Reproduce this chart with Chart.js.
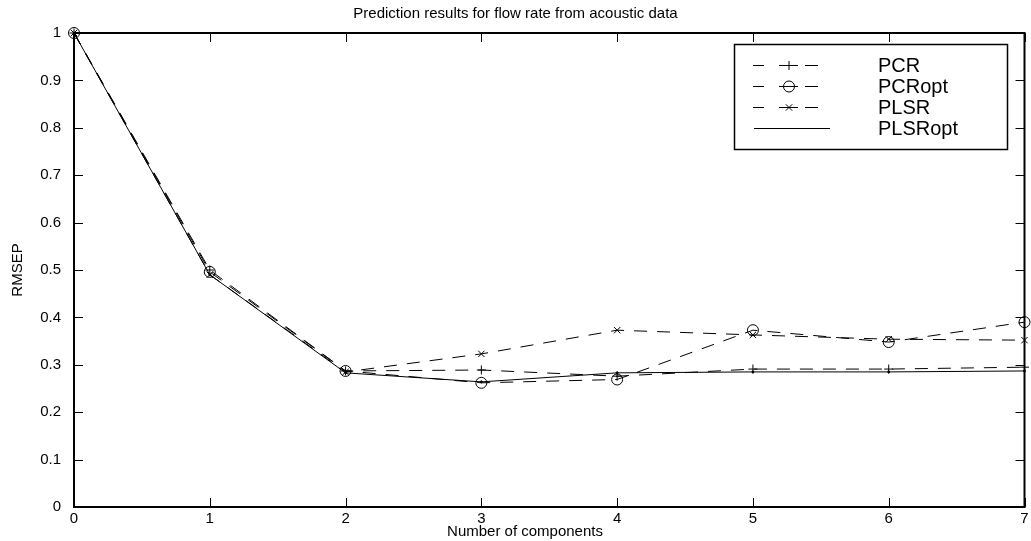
<!DOCTYPE html>
<html><head><meta charset="utf-8">
<script src="https://cdn.jsdelivr.net/npm/chart.js@4/dist/chart.umd.min.js"></script>
<style>html,body{margin:0;padding:0;background:#fff;overflow:hidden}</style>
</head><body>
<canvas id="c" width="1031" height="541"></canvas>
<script>
const components = [0, 1, 2, 3, 4, 5, 6, 7];
const pcr      = [1, 0.500, 0.287, 0.289, 0.276, 0.291, 0.291, 0.295];
const pcrOpt   = [1, 0.496, 0.287, 0.262, 0.269, 0.373, 0.348, 0.390];
const plsr     = [1, 0.490, 0.285, 0.323, 0.373, 0.363, 0.354, 0.352];
const plsrOpt  = [1, 0.490, 0.283, 0.264, 0.283, 0.285, 0.285, 0.287];
const seriesNames = ['PCR', 'PCRopt', 'PLSR', 'PLSRopt'];
const yTicks = [0, 0.1, 0.2, 0.3, 0.4, 0.5, 0.6, 0.7, 0.8, 0.9, 1];
const xTicks = [0, 1, 2, 3, 4, 5, 6, 7];
const titleText = 'Prediction results for flow rate from acoustic data';
const xTitle = 'Number of components';
const yTitle = 'RMSEP';

const FONT = "'Liberation Sans', Arial, Helvetica, sans-serif";
const toXY = arr => components.map((c, i) => ({x: c, y: arr[i]}));
const DASH = [13, 10];

const datasets = [
  {label: seriesNames[0], data: toXY(pcr), borderDash: DASH, pointStyle: 'cross', pointRadius: 4.5},
  {label: seriesNames[1], data: toXY(pcrOpt), borderDash: DASH, pointStyle: 'circle', pointRadius: 5.5},
  {label: seriesNames[2], data: toXY(plsr), borderDash: DASH, pointStyle: 'crossRot', pointRadius: 4.5},
  {label: seriesNames[3], data: toXY(plsrOpt), borderDash: [], pointStyle: 'circle', pointRadius: 1}
].map(d => Object.assign({
  borderColor: '#000', borderWidth: 1, backgroundColor: 'rgba(0,0,0,0)',
  pointBorderColor: '#000', pointBackgroundColor: 'rgba(0,0,0,0)', pointBorderWidth: 1,
  tension: 0, fill: false, clip: false
}, d));
datasets[3].pointBackgroundColor = '#000';

const framePlugin = {
  id: 'frame',
  afterDatasetsDraw(chart) {
    const {ctx, chartArea: a, scales} = chart;
    ctx.save();
    ctx.strokeStyle = '#000';
    ctx.lineWidth = 1;
    const TL = 9;
    ctx.beginPath();
    xTicks.forEach(v => {
      const px = Math.round(scales.x.getPixelForValue(v)) + 0.5;
      ctx.moveTo(px, a.bottom); ctx.lineTo(px, a.bottom - TL);
      ctx.moveTo(px, a.top); ctx.lineTo(px, a.top + TL);
    });
    yTicks.forEach(v => {
      const py = Math.round(scales.y.getPixelForValue(v)) + 0.5;
      ctx.moveTo(a.left, py); ctx.lineTo(a.left + TL, py);
      ctx.moveTo(a.right, py); ctx.lineTo(a.right - TL, py);
    });
    ctx.stroke();
    ctx.lineWidth = 2;
    ctx.strokeRect(a.left, a.top, a.right - a.left, a.bottom - a.top);
    ctx.restore();
  },
  afterDraw(chart) {
    const {ctx} = chart;
    ctx.save();
    // x-axis title
    ctx.fillStyle = '#000';
    ctx.font = '15px ' + FONT;
    ctx.textAlign = 'center';
    ctx.textBaseline = 'middle';
    ctx.fillText(chart.options.scales.x.title.text, 525, 532);
    // legend
    const bx = 734.5, by = 44.5, bw = 273, bh = 105;
    ctx.fillStyle = '#fff';
    ctx.fillRect(bx, by, bw, bh);
    ctx.strokeStyle = '#000';
    ctx.lineWidth = 1.5;
    ctx.strokeRect(bx, by, bw, bh);
    const rows = [65, 86, 107, 128];
    chart.data.datasets.forEach((ds, i) => {
      const y = rows[i] + 0.5;
      ctx.strokeStyle = '#000';
      ctx.lineWidth = 1;
      ctx.setLineDash([]);
      ctx.beginPath();
      const dashed = ds.borderDash && ds.borderDash.length;
      if (dashed) {
        [[753, 764], [779, 798], [805, 818]].forEach(([s, e]) => { ctx.moveTo(s, y); ctx.lineTo(e, y); });
      } else {
        ctx.moveTo(754, y); ctx.lineTo(830, y);
      }
      ctx.stroke();
      const mx = dashed ? 789 : 792;
      if (i === 3) {
        ctx.fillStyle = '#000'; ctx.fillRect(mx - 0.5, y - 0.5, 1, 1);
      } else {
        ctx.fillStyle = 'rgba(0,0,0,0)';
        Chart.helpers.drawPoint(ctx, {
          pointStyle: ds.pointStyle, radius: ds.pointRadius, borderWidth: 1, rotation: 0
        }, mx, y);
      }
      ctx.fillStyle = '#000';
      ctx.font = '20px ' + FONT;
      ctx.textAlign = 'left';
      ctx.textBaseline = 'middle';
      ctx.fillText(ds.label, 878, rows[i] + 1);
    });
    ctx.restore();
  }
};

new Chart(document.getElementById('c'), {
  type: 'line',
  data: {datasets},
  options: {
    responsive: false,
    animation: false,
    devicePixelRatio: 1,
    layout: {padding: 0},
    plugins: {
      legend: {display: false},
      tooltip: {enabled: false},
      title: {
        display: true, text: titleText, color: '#000',
        font: {family: FONT, size: 15, weight: 'normal'},
        padding: {top: 5, bottom: 10}
      }
    },
    scales: {
      x: {
        type: 'linear', min: 0, max: 7,
        grid: {display: false, drawTicks: false, tickLength: 0}, border: {display: false},
        afterBuildTicks: s => { s.ticks = xTicks.map(v => ({value: v})); },
        afterFit: s => { s.height = 34; s.paddingLeft = 0; s.paddingRight = 0; },
        ticks: {color: '#000', font: {family: FONT, size: 15}, padding: 3, maxRotation: 0, autoSkip: false,
          callback: v => String(v)},
        title: {display: false, text: xTitle}
      },
      y: {
        type: 'linear', min: 0, max: 1,
        grid: {display: false, drawTicks: false, tickLength: 0}, border: {display: false},
        afterBuildTicks: s => { s.ticks = yTicks.map(v => ({value: v})); },
        afterFit: s => { s.width = 74; s.paddingTop = 0; s.paddingBottom = 0; },
        ticks: {color: '#000', font: {family: FONT, size: 15}, padding: 13, autoSkip: false,
          callback: v => String(v)},
        title: {display: true, text: yTitle, color: '#000', font: {family: FONT, size: 15}, padding: {top: 9}}
      }
    }
  },
  plugins: [framePlugin]
});
</script>
</body></html>
